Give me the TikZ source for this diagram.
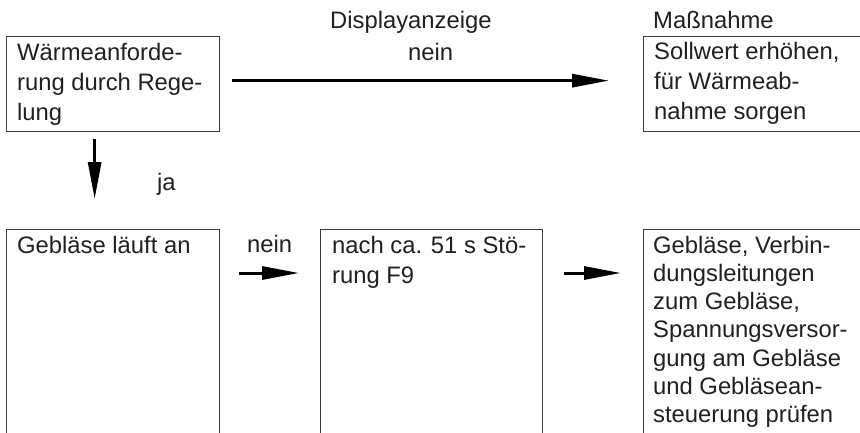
\documentclass[tikz,border=0pt]{standalone}
\usepackage{fontspec}
\setmainfont{Liberation Sans}
\usetikzlibrary{arrows.meta,calc}
\definecolor{ink}{HTML}{231F20}
\definecolor{frame}{HTML}{3A3A3A}
% multi-line text whose baseline is that of its first line
\newcommand{\boxlines}[1]{\begin{tabular}[t]{@{}l@{}}#1\end{tabular}}
\begin{document}
\begin{tikzpicture}[x=1pt,y=-1pt,
  box/.style={draw=frame, line width=1.3pt, rectangle, inner sep=0pt, anchor=north west},
  txt/.style={text=ink, font=\fontsize{23.8}{30}\selectfont, inner sep=0pt, anchor=base west},
  dense/.style={font=\fontsize{23.8}{28.3}\selectfont},
  arr/.style={draw=black, line width=3pt, -{Triangle[length=37pt,width=13pt]}}]
\useasboundingbox (0,0) rectangle (860,432);
\fill[white] (0,0) rectangle (860,432);
\clip (0,0) rectangle (860,432);

% frames (the lower ones run past the bottom edge, the right ones past the right edge)
\node[box, minimum width=213pt, minimum height=95pt]  (anf)   at (6,36)    {};
\node[box, minimum width=260pt, minimum height=95pt]  (mass)  at (643,36)  {};
\node[box, minimum width=213pt, minimum height=230pt] (geb)   at (6,229)   {};
\node[box, minimum width=222pt, minimum height=230pt] (stoer) at (320,229) {};
\node[box, minimum width=260pt, minimum height=230pt] (pruef) at (643,229) {};

% frame texts
\node[txt] (anf-t)   at ([xshift=11pt,yshift=-24pt]anf.north west)   {\boxlines{Wärmeanforde-\\rung durch Rege-\\lung}};
\node[txt] (mass-t)  at ([xshift=11pt,yshift=-23pt]mass.north west)  {\boxlines{Sollwert erhöhen,\\für Wärmeab-\\nahme sorgen}};
\node[txt] (geb-t)   at ([xshift=11pt,yshift=-24pt]geb.north west)   {Gebläse läuft an};
\node[txt] (stoer-t) at ([xshift=12pt,yshift=-24pt]stoer.north west) {\boxlines{nach ca. 51 s Stö-\\rung F9}};
\node[txt, dense] (pruef-t) at ([xshift=10pt,yshift=-24pt]pruef.north west) {\boxlines{Gebläse, Verbin-\\dungsleitungen\\zum Gebläse,\\Spannungsversor-\\gung am Gebläse\\und Gebläsean-\\steuerung prüfen}};

% headings and branch labels
\node[txt] (anzeige)   at (330,28)  {Displayanzeige};
\node[txt] (nein-o)    at (408,60)  {nein};
\node[txt] (massnahme) at (653,28)  {Maßnahme};
\node[txt] (ja)        at (157,190) {ja};
\node[txt] (nein-u)    at (247,252) {nein};

% connectors
\draw[arr, shorten <=12pt, shorten >=34pt] ([yshift=3.5pt]anf.east) -- ([yshift=3.5pt]anf.east -| mass.west);
\draw[arr, shorten <=7pt, shorten >=30pt] ([xshift=-18.5pt]anf.south) -- ([xshift=-18.5pt]anf.south |- geb.north);
\draw[arr, shorten <=19pt, shorten >=21pt] ([yshift=-44pt]geb.north east) -- ([yshift=-44pt]stoer.north west);
\draw[arr, shorten <=21pt, shorten >=22pt] ([yshift=-44pt]stoer.north east) -- ([yshift=-44pt]pruef.north west);
\end{tikzpicture}
\end{document}
